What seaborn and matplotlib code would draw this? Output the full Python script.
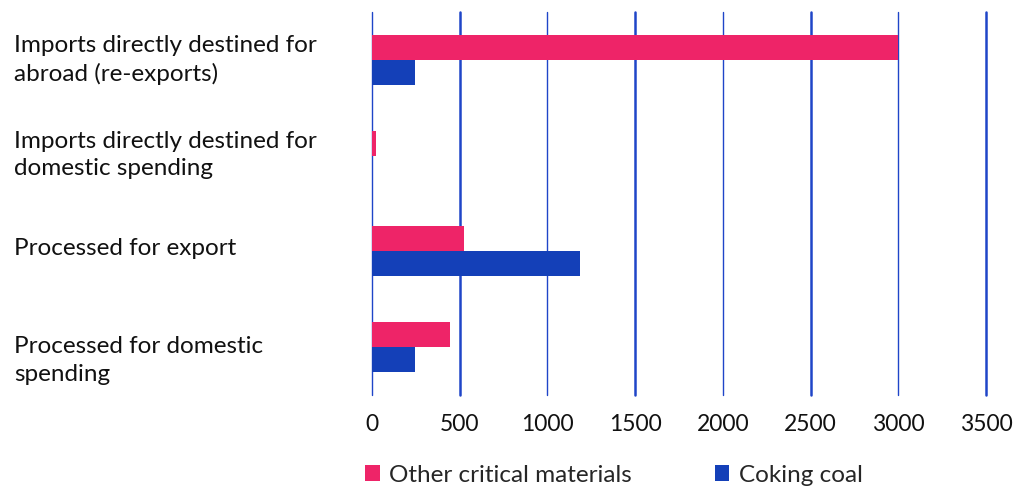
import matplotlib
matplotlib.use("Agg")
import matplotlib.pyplot as plt
import matplotlib.transforms as mtransforms
from matplotlib.patches import Patch
import seaborn as sns
import pandas as pd

categories = [
    "Imports directly destined for\nabroad (re-exports)",
    "Imports directly destined for\ndomestic spending",
    "Processed for export",
    "Processed for domestic\nspending",
]
other_critical = [3000, 22, 525, 445]
coking_coal = [245, 0, 1185, 245]
series_names = ["Other critical materials", "Coking coal"]
x_ticks = [0, 500, 1000, 1500, 2000, 2500, 3000, 3500]

PINK = "#EE2468"
BLUE = "#1440B8"
GRID = "#1F45C8"

df = pd.DataFrame({
    "category": categories * 2,
    "value": other_critical + coking_coal,
    "series": [series_names[0]] * len(categories) + [series_names[1]] * len(categories),
})

sns.set_theme(style="white")
plt.rcParams["font.family"] = ["Lato", "DejaVu Sans"]

fig = plt.figure(figsize=(10.14, 4.87), dpi=100)
ax = fig.add_axes([372 / 1014, 1 - 395 / 487, (986 - 372) / 1014, (395 - 12) / 487])

sns.barplot(
    data=df, x="value", y="category", hue="series", orient="h",
    palette=[PINK, BLUE], saturation=1, width=0.52, linewidth=0, ax=ax, legend=False,
    order=categories, hue_order=series_names,
)

ax.set_xlim(0, 3500)
ax.set_ylim(len(categories) - 0.5, -0.5)
ax.set_xticks(x_ticks)
ax.set_xticklabels([str(t) for t in x_ticks])
ax.set_xlabel("")
ax.set_ylabel("")

# vertical grid: alternate thin and thick lines
for i, t in enumerate(x_ticks):
    ax.axvline(t, color=GRID, lw=1.0 if i % 2 == 0 else 1.8, zorder=0, clip_on=False)

for s in ax.spines.values():
    s.set_visible(False)
ax.tick_params(axis="x", length=0, pad=14, labelsize=16.5, labelcolor="#111111")
ax.tick_params(axis="y", length=0, pad=(372 - 14) * 0.72, labelsize=17.5, labelcolor="#111111")

# category labels: left aligned, with small vertical nudges (points)
label_nudge = [3.6, 4.3, 3.6, -5.8]
for lbl, dy in zip(ax.get_yticklabels(), label_nudge):
    lbl.set_horizontalalignment("left")
    lbl.set_linespacing(1.38)
    lbl.set_transform(lbl.get_transform() + mtransforms.ScaledTranslation(0, dy / 72, fig.dpi_scale_trans))

handles = [Patch(facecolor=PINK, edgecolor="none"), Patch(facecolor=BLUE, edgecolor="none")]
fig.legend(
    handles, series_names, loc="center", bbox_to_anchor=(0.6055, 1 - 475 / 487),
    ncol=2, frameon=False, fontsize=17.5, handlelength=0.6, handleheight=0.6,
    handletextpad=0.4, columnspacing=3.4,
)

fig.savefig("out.png", dpi=100)
